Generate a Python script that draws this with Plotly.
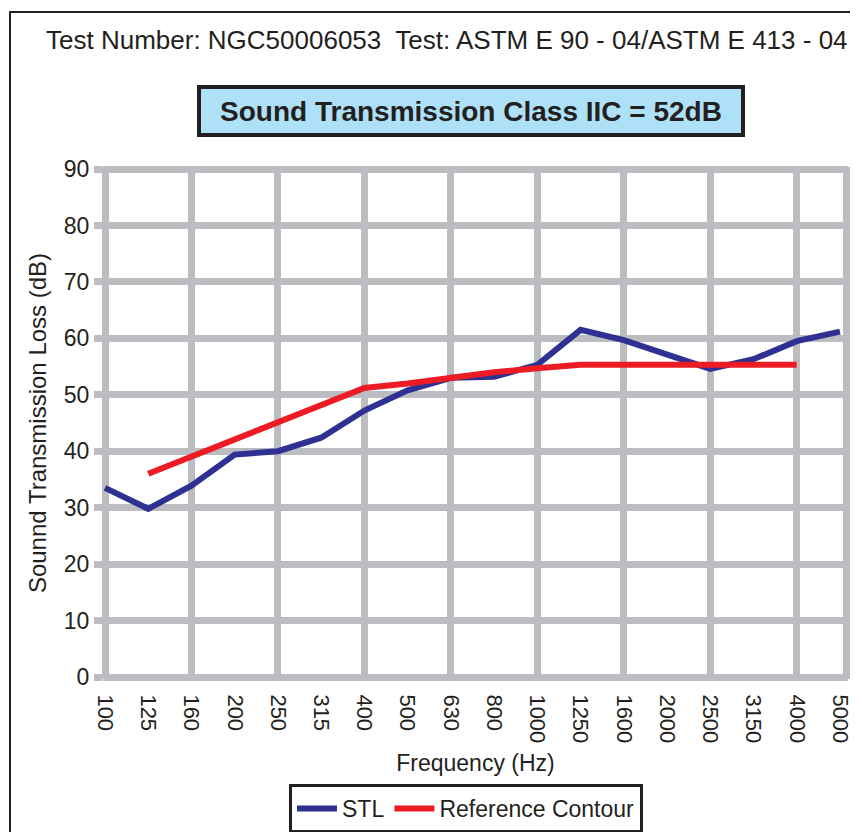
import plotly.graph_objects as go

freqs = ["100", "125", "160", "200", "250", "315", "400", "500", "630", "800",
         "1000", "1250", "1600", "2000", "2500", "3150", "4000", "5000"]
stl = [33.5, 29.8, 33.9, 39.4, 40.0, 42.4, 47.2, 50.8, 53.0, 53.2,
       55.3, 61.5, 59.7, 57.2, 54.6, 56.3, 59.5, 61.2]
ref_freqs = ["125", "160", "200", "250", "315", "400", "500", "630", "800",
             "1000", "1250", "1600", "2000", "2500", "3150", "4000"]
ref = [36, 39, 42, 45, 48, 51.2, 52, 53, 54, 54.7, 55.3, 55.3, 55.3, 55.3, 55.3, 55.3]

idx = {f: i for i, f in enumerate(freqs)}
x_stl = [idx[f] for f in freqs]
x_ref = [idx[f] for f in ref_freqs]
x_max = 17.14
x_grid = [0, 2, 4, 6, 8, 10, 12, 14, 16, x_max]

GRID = "#bcbdc0"
INK = "#231f20"
FONT = "Liberation Sans, Arial, sans-serif"

# page body has an 8px margin; figure is sized to fit the 858x832 window
W, H = 850, 824
L, R, T, B = 95, 10, 159, 153
PW, PH = W - L - R, H - T - B
PAD = 2  # px of padding so the border grid lines are not dropped at the ends
dx = PAD * x_max / (PW - 2 * PAD)
dy = PAD * 90 / (PH - 2 * PAD)


def px(x):
    return (x - 8 - L) / PW


def py(y):
    return (H - B - (y - 8)) / PH


fig = go.Figure()
fig.add_trace(go.Scatter(x=x_stl, y=stl, mode="lines", name="STL",
                         line=dict(color="#2e3192", width=6)))
fig.add_trace(go.Scatter(x=x_ref, y=ref, mode="lines", name="Reference Contour",
                         line=dict(color="#ed1c24", width=6)))

fig.update_layout(
    width=W, height=H,
    margin=dict(l=L, r=R, t=T, b=B, autoexpand=False),
    paper_bgcolor="white", plot_bgcolor="white",
    font=dict(family=FONT, color=INK, size=22),
    showlegend=True,
    legend=dict(orientation="h", x=px(466), xanchor="center", y=py(784), yanchor="top",
                bordercolor=INK, borderwidth=3, bgcolor="white",
                font=dict(size=23), itemwidth=40, traceorder="normal"),
    xaxis=dict(
        range=[-dx, x_max + dx], automargin=False,
        tickmode="array", tickvals=x_stl, ticktext=freqs, tickangle=90,
        tickfont=dict(size=22), showgrid=False,
        ticks="outside", ticklen=10, tickcolor="rgba(0,0,0,0)", zeroline=False,
        showline=False,
        minor=dict(tickmode="array", tickvals=x_grid,
                   showgrid=True, gridcolor=GRID, gridwidth=7, ticks=""),
        title=dict(text="Frequency (Hz)", font=dict(size=23), standoff=12),
    ),
    yaxis=dict(
        range=[-dy, 90 + dy], tickmode="linear", tick0=0, dtick=10, automargin=False,
        tickfont=dict(size=23), showgrid=True, gridcolor=GRID, gridwidth=7,
        ticks="outside", ticklen=8, tickwidth=7, tickcolor=GRID, zeroline=False,
        showline=False,
        title=dict(text="Sounnd Transmission Loss (dB)", font=dict(size=24), standoff=10),
    ),
    shapes=[dict(type="rect", xref="paper", yref="paper",
                 x0=px(10), x1=px(900), y0=py(900), y1=py(12),
                 line=dict(color=INK, width=2), fillcolor="rgba(0,0,0,0)",
                 layer="below")],
    annotations=[
        dict(text="Test Number: NGC50006053  Test: ASTM E 90 - 04/ASTM E 413 - 04",
             xref="paper", yref="paper", x=px(447), y=py(40),
             xanchor="center", yanchor="middle", showarrow=False,
             font=dict(size=26, family=FONT, color=INK)),
        dict(text="<b>Sound Transmission Class IIC = 52dB</b>",
             xref="paper", yref="paper", x=px(471), y=py(111),
             xanchor="center", yanchor="middle", showarrow=False,
             width=540, height=44, bgcolor="#aee1f8", bordercolor=INK,
             borderwidth=4, borderpad=0,
             font=dict(size=28, family=FONT, color=INK)),
    ],
)

fig.write_html("out.html")
